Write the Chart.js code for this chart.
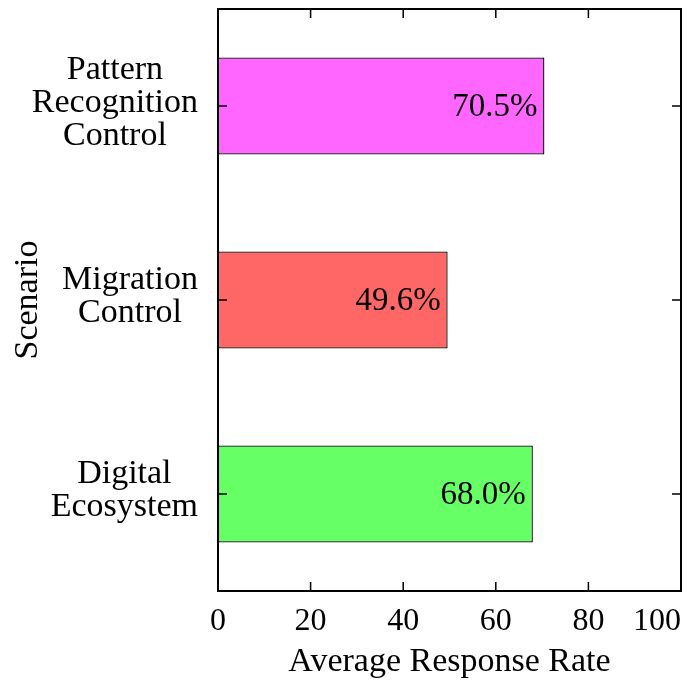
<!DOCTYPE html>
<html>
<head>
<meta charset="utf-8">
<script src="https://cdn.jsdelivr.net/npm/chart.js@4/dist/chart.umd.min.js"></script>
<style>
  html, body { margin: 0; padding: 0; background: #fff; }
  #wrap { width: 699px; height: 682px; position: relative; }
</style>
</head>
<body>
<div id="wrap"><canvas id="chart"></canvas></div>
<script>
// Datos del gráfico
const scenarios = [
    ['Pattern', 'Recognition', 'Control'],
    ['Migration', 'Control'],
    ['Digital', 'Ecosystem']
];
const responseRates = [70.5, 49.6, 68.0];
const barColors = ['#ff66ff', '#ff6666', '#66ff66'];
const xTicks = [0, 20, 40, 60, 80, 100];

const FONT = "'Liberation Serif', 'Times New Roman', serif";

// Marco, marcas hacia adentro y etiquetas de los ejes
const frameTicks = {
    id: 'frameTicks',
    afterDatasetsDraw(chart) {
        const { ctx, chartArea: a, scales: { x, y } } = chart;
        ctx.save();
        ctx.strokeStyle = '#000';
        ctx.lineWidth = 1.5;
        ctx.beginPath();
        xTicks.forEach(v => {
            const px = x.getPixelForValue(v);
            ctx.moveTo(px, a.bottom); ctx.lineTo(px, a.bottom - 9);
            ctx.moveTo(px, a.top); ctx.lineTo(px, a.top + 9);
        });
        scenarios.forEach((_, i) => {
            const py = y.getPixelForValue(i);
            ctx.moveTo(a.left, py); ctx.lineTo(a.left + 9, py);
            ctx.moveTo(a.right, py); ctx.lineTo(a.right - 9, py);
        });
        ctx.stroke();
        ctx.lineWidth = 2;
        ctx.strokeRect(a.left, a.top, a.right - a.left, a.bottom - a.top);

        ctx.fillStyle = '#000';
        ctx.textBaseline = 'middle';
        ctx.textAlign = 'center';

        // etiquetas del eje X (la última se desplaza para que quepa)
        ctx.font = '32px ' + FONT;
        xTicks.forEach(v => {
            const txt = String(v);
            const w = ctx.measureText(txt).width;
            let cx = x.getPixelForValue(v);
            if (cx + w / 2 > a.right) cx = a.right - w / 2;
            ctx.fillText(txt, cx, a.bottom + 31);
        });

        // etiquetas del eje Y: bloque alineado a la derecha, líneas centradas
        ctx.font = '34px ' + FONT;
        const lh = 33;
        scenarios.forEach((lines, i) => {
            const w = Math.max(...lines.map(l => ctx.measureText(l).width));
            const cx = a.left - 20 - w / 2;
            const cy = y.getPixelForValue(i) - 3;
            lines.forEach((l, j) => {
                ctx.fillText(l, cx, cy + (j - (lines.length - 1) / 2) * lh);
            });
        });
        ctx.restore();
    }
};

// Etiquetas de valor dentro de cada barra
const valueLabels = {
    id: 'valueLabels',
    afterDatasetsDraw(chart) {
        const { ctx } = chart;
        const meta = chart.getDatasetMeta(0);
        ctx.save();
        ctx.font = '33px ' + FONT;
        ctx.fillStyle = '#000';
        ctx.textAlign = 'right';
        ctx.textBaseline = 'middle';
        meta.data.forEach((bar, i) => {
            ctx.fillText(responseRates[i].toFixed(1) + '%', bar.x - 7, bar.y + 1);
        });
        ctx.restore();
    }
};

new Chart(document.getElementById('chart'), {
    type: 'bar',
    data: {
        labels: scenarios,
        datasets: [{
            data: responseRates,
            backgroundColor: barColors,
            borderColor: '#000',
            borderWidth: 1.3,
            borderSkipped: false,
            barPercentage: 1,
            categoryPercentage: 0.5
        }]
    },
    options: {
        indexAxis: 'y',
        responsive: true,
        maintainAspectRatio: false,
        animation: false,
        layout: { padding: { top: 9, right: 18, left: 0, bottom: 0 } },
        plugins: {
            legend: { display: false },
            tooltip: { enabled: false }
        },
        scales: {
            x: {
                min: 0,
                max: 100,
                afterBuildTicks: s => { s.ticks = xTicks.map(v => ({ value: v })); },
                grid: { display: false, drawTicks: false },
                border: { display: false },
                ticks: { display: false },
                title: {
                    display: true,
                    text: 'Average Response Rate',
                    color: '#000',
                    padding: { top: 0, bottom: 0 },
                    font: { family: FONT, size: 34 }
                },
                afterFit: s => {
                    s.height = 91;
                    s.paddingLeft = 0;
                    s.paddingRight = 0;
                }
            },
            y: {
                grid: { display: false, drawTicks: false },
                border: { display: false },
                ticks: { display: false },
                title: {
                    display: true,
                    text: 'Scenario',
                    color: '#000',
                    padding: { top: 8, bottom: 0 },
                    font: { family: FONT, size: 34 }
                },
                afterFit: s => {
                    s.width = 218;
                    s.paddingTop = 0;
                    s.paddingBottom = 0;
                }
            }
        }
    },
    plugins: [valueLabels, frameTicks]
});
</script>
</body>
</html>
